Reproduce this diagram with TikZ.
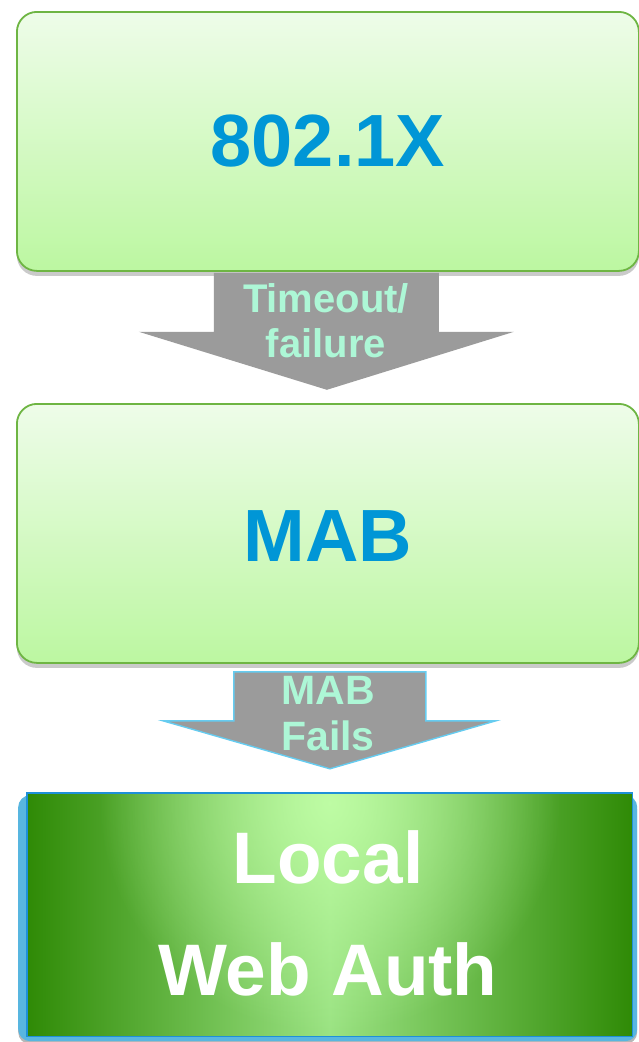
\documentclass[tikz,border=0pt]{standalone}
\usepackage{fontspec}
\setmainfont{Liberation Sans}
\usetikzlibrary{calc,shadows,fadings}

\definecolor{boxline}{HTML}{6EB543}
\definecolor{boxtop}{HTML}{EEFCE9}
\definecolor{boxbot}{HTML}{BCF7A1}
\definecolor{titleblue}{HTML}{0096D6}
\definecolor{arrowgray}{HTML}{9B9B9B}
\definecolor{mint}{HTML}{ADF7D6}
\definecolor{arrowedge}{HTML}{66CCF0}
\definecolor{frameblue}{HTML}{58B6E0}
\definecolor{edgeblue}{HTML}{1E90D8}
\definecolor{darkgreen}{HTML}{2F8A06}
\definecolor{midgreen}{HTML}{9BE383}
\definecolor{glowgreen}{HTML}{C2FFA8}

\tikzfading[name=softglow, inner color=transparent!0, outer color=transparent!100]

\tikzset{
  stagebox/.style={draw=boxline, line width=1.8pt, rounded corners=20pt,
    top color=boxtop, bottom color=boxbot,
    drop shadow={shadow xshift=0pt, shadow yshift=-5pt, opacity=0.35, fill=black!60},
    minimum width=622pt, minimum height=259pt, anchor=north west,
    text=titleblue, font=\fontsize{74}{80}\selectfont\bfseries},
  flowarrow/.style={fill=arrowgray},
  arrowtext/.style={text=mint, align=center, inner sep=0pt},
  finaltext/.style={text=white, align=center, inner sep=0pt,
    font=\fontsize{73}{112}\selectfont\bfseries}
}

\begin{document}
\begin{tikzpicture}[x=1pt, y=-1pt]
\useasboundingbox (0,0) rectangle (639,1042);

% first stage and its fallback arrow
\node[stagebox] (dot1x) at (16,11) {802.1X};
\fill[flowarrow]
  ($(dot1x.south)+(-114,1)$) -- ($(dot1x.south)+(111,1)$)
  -- ($(dot1x.south)+(111,60)$) -- ($(dot1x.south)+(186,60)$)
  -- ($(dot1x.south)+(-1,118)$)
  -- ($(dot1x.south)+(-189,60)$) -- ($(dot1x.south)+(-114,60)$) -- cycle;
\node[arrowtext, font=\fontsize{40}{45}\selectfont\bfseries] (lblA) at (326,321) {Timeout/\\failure};

% second stage and its fallback arrow
\node[stagebox] (mab) at (16,403) {};
\node[text=titleblue, font=\fontsize{74}{80}\selectfont\bfseries, inner sep=0pt]
  (mabtxt) at (328,536) {MAB};
\draw[flowarrow, draw=arrowedge, line width=1.4pt, line join=miter]
  ($(mab.south)+(-94,8)$) -- ($(mab.south)+(98,8)$)
  -- ($(mab.south)+(98,57)$) -- ($(mab.south)+(168,57)$)
  -- ($(mab.south)+(2,105)$)
  -- ($(mab.south)+(-165,57)$) -- ($(mab.south)+(-94,57)$) -- cycle;
\node[arrowtext, font=\fontsize{41}{46}\selectfont\bfseries] (lblB) at (328,714) {MAB\\Fails};

% last stage: framed green panel
\node[fill=frameblue, rounded corners=12pt, minimum width=619pt, minimum height=246pt,
  anchor=north west, inner sep=0pt,
  drop shadow={shadow xshift=0pt, shadow yshift=-3pt, opacity=0.4, fill=black!70}]
  (frame) at (18,795) {};
\node[minimum width=605pt, minimum height=243pt, anchor=north west, inner sep=0pt]
  (lwa) at (27,793) {};
\begin{scope}
  \clip (lwa.north west) rectangle (lwa.south east);
  \shade[left color=darkgreen, right color=darkgreen, middle color=midgreen]
    (lwa.north west) rectangle (lwa.south east);
  \fill[glowgreen, path fading=softglow, fill opacity=0.9]
    ($(lwa.north)+(0,10)$) ellipse (230pt and 230pt);
\end{scope}
\draw[edgeblue, line width=1.2pt] (lwa.north west) rectangle (lwa.south east);
\node[finaltext] (lwatxt) at (328,913) {Local\\Web Auth};
\end{tikzpicture}
\end{document}
